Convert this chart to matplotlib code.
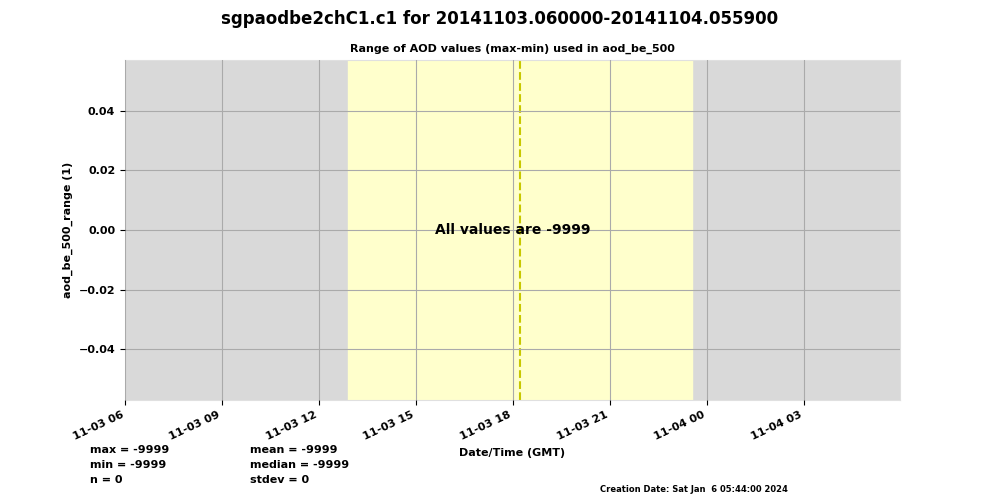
import numpy as np
import matplotlib
matplotlib.use("Agg")
import matplotlib.pyplot as plt
import matplotlib.dates as mdates

plt.rcParams["font.weight"] = "bold"
plt.rcParams["axes.labelweight"] = "bold"
plt.rcParams["axes.titleweight"] = "bold"

# data window and day/night info
t_start = np.datetime64("2014-11-03T06:00:00")
t_end = np.datetime64("2014-11-04T05:59:00")
sunrise = np.datetime64("2014-11-03T12:54:00")
sunset = np.datetime64("2014-11-03T23:32:00")
solar_noon = np.datetime64("2014-11-03T18:13:00")
y_limits = [-0.0571, 0.0571]
y_ticks = [-0.04, -0.02, 0.0, 0.02, 0.04]

stats_left = ["max = -9999", "min = -9999", "n = 0"]
stats_right = ["mean = -9999", "median = -9999", "stdev = 0"]

fig = plt.figure(figsize=(10, 5), dpi=100)
ax = fig.add_axes([0.125, 0.2, 0.775, 0.68])

ax.set_facecolor("#d9d9d9")
ax.axvspan(mdates.date2num(sunrise), mdates.date2num(sunset), color="#ffffcc", zorder=0)
ax.axvline(mdates.date2num(solar_noon), color="#c8c800", linestyle="--", linewidth=1.5, zorder=2)

ax.set_xlim(mdates.date2num(t_start), mdates.date2num(t_end))
ax.set_ylim(y_limits)
ax.set_yticks(y_ticks)
ax.xaxis.set_major_locator(mdates.HourLocator(byhour=range(0, 24, 3)))
ax.xaxis.set_major_formatter(mdates.DateFormatter("%m-%d %H"))
plt.setp(ax.get_xticklabels(), rotation=25, ha="right", fontsize=8)
plt.setp(ax.get_yticklabels(), fontsize=8)
ax.grid(True, color="#aaaaaa", linewidth=0.8)
ax.set_axisbelow(False)
for s in ax.spines.values():
    s.set_color("#e0e0e0")

ax.set_title("Range of AOD values (max-min) used in aod_be_500", fontsize=8)
ax.set_ylabel("aod_be_500_range (1)", fontsize=8)
ax.set_xlabel("Date/Time (GMT)", fontsize=8)
ax.xaxis.set_label_coords(0.5, -0.14)

ax.text(0.5, 0.5, "All values are -9999", transform=ax.transAxes,
        ha="center", va="center", fontsize=10)

fig.suptitle("sgpaodbe2chC1.c1 for 20141103.060000-20141104.055900",
             fontsize=12, fontweight="bold", y=0.98)

for i, s in enumerate(stats_left):
    fig.text(0.09, 0.1 - i * 0.03, s, fontsize=8, va="center")
for i, s in enumerate(stats_right):
    fig.text(0.25, 0.1 - i * 0.03, s, fontsize=8, va="center")

fig.text(0.6, 0.015, "Creation Date: Sat Jan  6 05:44:00 2024", fontsize=6)

fig.savefig("out.png", dpi=100)
